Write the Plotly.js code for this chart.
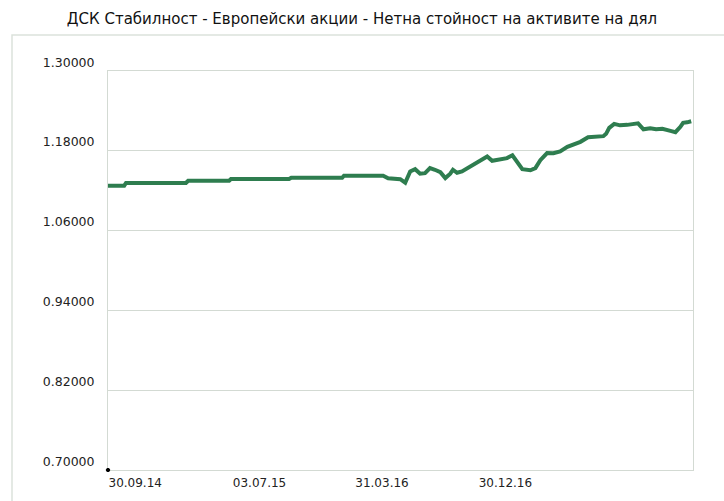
<!DOCTYPE html>
<html>
<head>
<meta charset="utf-8">
<script src="https://cdn.plot.ly/plotly-3.0.1.min.js"></script>
<style>html,body{margin:0;padding:0;background:#fff;}#chart{width:724px;height:501px;}</style>
</head>
<body>
<div id="chart"></div>
<script>
var chartTitle = "ДСК Стабилност - Европейски акции - Нетна стойност на активите на дял";

var dates = [
  "2014-09-30","2014-11-05","2014-11-09","2015-03-22","2015-03-27","2015-06-26","2015-06-30",
  "2015-11-06","2015-11-11","2016-03-03","2016-03-07","2016-06-02","2016-06-13","2016-06-29",
  "2016-07-10","2016-07-21","2016-08-01","2016-08-12","2016-08-23","2016-09-03","2016-09-14",
  "2016-09-25","2016-10-07","2016-10-18","2016-10-29","2016-11-04","2016-11-13","2016-11-24",
  "2016-12-06","2016-12-17","2016-12-30","2017-01-10","2017-01-19","2017-01-30","2017-02-17",
  "2017-03-04","2017-03-16","2017-03-27","2017-04-07","2017-04-25","2017-05-06","2017-05-17",
  "2017-06-01","2017-06-15","2017-06-30","2017-07-16","2017-07-29","2017-08-14","2017-08-31",
  "2017-09-16","2017-10-04","2017-10-10","2017-10-17","2017-10-28","2017-11-10","2017-11-26",
  "2017-12-07","2017-12-20","2018-01-01","2018-01-16","2018-01-29","2018-02-12","2018-03-02",
  "2018-03-13","2018-03-24","2018-03-30","2018-04-08","2018-04-17"
];

var navValues = [
  1.1275,1.1275,1.1316,1.1316,1.1350,1.1350,1.1376,
  1.1376,1.1395,1.1395,1.1425,1.1425,1.1388,1.1380,
  1.1373,1.1320,1.1490,1.1523,1.1455,1.1463,1.1540,
  1.1515,1.1478,1.1390,1.1455,1.1515,1.1470,1.1490,
  1.1540,1.1590,1.1640,1.1695,1.1715,1.1650,1.1665,
  1.1690,1.1733,1.1635,1.1523,1.1508,1.1540,1.1658,
  1.1766,1.1763,1.1790,1.1860,1.1890,1.1935,1.2003,
  1.2018,1.2020,1.2055,1.2145,1.2205,1.2183,1.2190,
  1.2205,1.2213,1.2123,1.2140,1.2123,1.2130,1.2100,
  1.2080,1.2160,1.2220,1.2228,1.2245
];

var xTickVals = ["2014-09-30","2015-07-03","2016-03-31","2016-12-30"];
var xTickText = ["30.09.14","03.07.15","31.03.16","30.12.16"];
var yTickVals = [0.70,0.82,0.94,1.06,1.18,1.30];
var yTickText = ["0.70000","0.82000","0.94000","1.06000","1.18000","1.30000"];

var trace = {
  x: dates, y: navValues, type: "scatter", mode: "lines",
  line: {color: "#2e7d4f", width: 4},
  hoverinfo: "skip"
};

var layout = {
  width: 724, height: 501,
  margin: {l: 108, r: 31, t: 71, b: 31},
  paper_bgcolor: "#ffffff", plot_bgcolor: "#ffffff",
  showlegend: false,
  font: {family: "DejaVu Sans, Verdana, sans-serif", size: 12, color: "#222"},
  title: {text: chartTitle, x: 0.5, xanchor: "center", y: 0.963, yanchor: "middle",
          font: {family: "DejaVu Sans, Verdana, sans-serif", size: 15, color: "#111"}},
  xaxis: {
    type: "date", range: ["2014-09-30", "2018-04-21"],
    tickmode: "array", tickvals: xTickVals, ticktext: xTickText,
    ticklabelposition: "outside right",
    showgrid: false, zeroline: false,
    showline: true, linecolor: "#d3dad3", linewidth: 1, mirror: true,
    ticks: "", ticklabelstandoff: 2, tickfont: {size: 12, color: "#222"}
  },
  yaxis: {
    range: [0.70, 1.30],
    tickmode: "array", tickvals: yTickVals, ticktext: yTickText,
    ticklabelposition: "outside top",
    showgrid: true, gridcolor: "#d3dad3", gridwidth: 1, zeroline: false,
    showline: true, linecolor: "#d3dad3", linewidth: 1, mirror: true,
    ticks: "", ticklabelstandoff: 10, tickfont: {size: 12.5, color: "#222"}
  },
  shapes: [
    {type: "rect", xref: "paper", yref: "paper", x0: -0.1641, x1: 1.1, y0: -0.2, y1: 1.0902,
     line: {color: "#dbe2db", width: 1.5}, fillcolor: "rgba(0,0,0,0)", layer: "below"},
    {type: "circle", xref: "paper", yref: "paper", x0: -0.003, x1: 0.003, y0: -0.004, y1: 0.004,
     line: {color: "#000", width: 1}, fillcolor: "#000"}
  ]
};

Plotly.newPlot("chart", [trace], layout, {staticPlot: true, displayModeBar: false});
</script>
</body>
</html>
